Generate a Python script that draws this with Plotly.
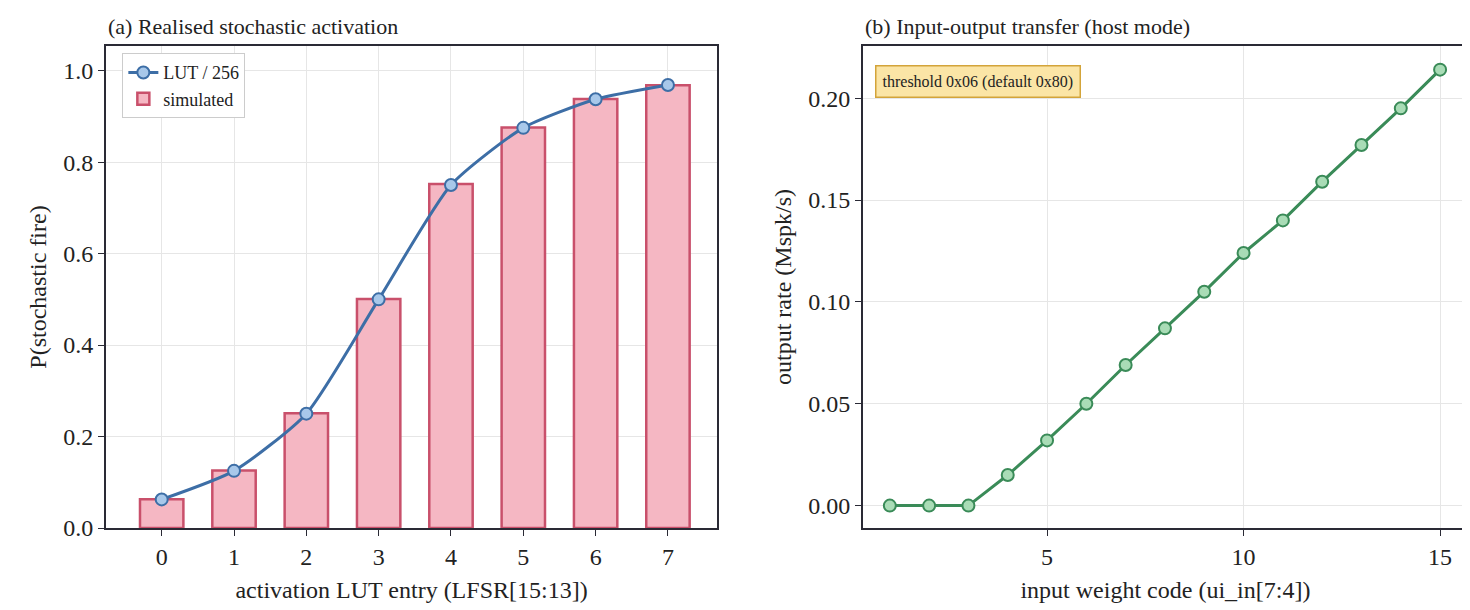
import plotly.graph_objects as go
from plotly.subplots import make_subplots

lut_x = [0, 1, 2, 3, 4, 5, 6, 7]
lut_p = [16/256, 32/256, 64/256, 128/256, 192/256, 224/256, 240/256, 248/256]
sim_p = [0.063, 0.126, 0.251, 0.501, 0.752, 0.876, 0.938, 0.968]
w_code = list(range(1, 16))
rate = [0, 0, 0, 0.015, 0.032, 0.050, 0.069, 0.087, 0.105, 0.124, 0.140, 0.159, 0.177, 0.195, 0.214]

F = "Liberation Serif"
fig = make_subplots(rows=1, cols=2)
fig.add_trace(go.Bar(x=lut_x, y=sim_p, width=0.6, name="simulated",
                     marker=dict(color="#f5b7c3", line=dict(color="#c9506b", width=2.5))), 1, 1)
fig.add_trace(go.Scatter(x=lut_x, y=lut_p, name="LUT / 256", mode="lines+markers",
                         line=dict(color="#3d6ea6", width=3, shape="spline", smoothing=0.6),
                         marker=dict(size=12, color="#a8c8ea", line=dict(color="#3d6ea6", width=2))), 1, 1)
fig.add_trace(go.Scatter(x=w_code, y=rate, mode="lines+markers", showlegend=False,
                         line=dict(color="#3a8b58", width=3),
                         marker=dict(size=12, color="#a9dcb6", line=dict(color="#3a8b58", width=2))), 1, 2)

ax = dict(showline=True, linecolor="#2a2a35", linewidth=1.8, mirror=True, ticks="outside",
          ticklen=6, tickcolor="#2a2a35", showgrid=True, gridcolor="#e6e6e6", zeroline=False,
          tickfont=dict(size=24, family=F, color="#222"))
tf = dict(size=24, family=F)
fig.update_xaxes(**ax)
fig.update_yaxes(**ax)
fig.update_xaxes(domain=[0, 0.4487], range=[-0.77, 7.68], tickvals=lut_x,
                 title=dict(text="activation LUT entry (LFSR[15:13])", font=tf, standoff=12), row=1, col=1)
fig.update_yaxes(range=[0, 1.054], tickvals=[0, 0.2, 0.4, 0.6, 0.8, 1.0], tickformat=".1f",
                 title=dict(text="P(stochastic fire)", font=tf, standoff=10), row=1, col=1)
fig.update_xaxes(domain=[0.5557, 1], range=[0.314, 15.71], tickvals=[5, 10, 15],
                 title=dict(text="input weight code (ui_in[7:4])", font=tf, standoff=12), row=1, col=2)
fig.update_yaxes(range=[-0.011, 0.2256], tickvals=[0, 0.05, 0.1, 0.15, 0.2], tickformat=".2f",
                 title=dict(text="output rate (Mspk/s)", font=tf, standoff=10), row=1, col=2)
fig.update_layout(
    width=1470, height=610, plot_bgcolor="white", paper_bgcolor="white",
    margin=dict(l=98, r=8, t=38, b=90),
    font=dict(family=F, color="#222"),
    legend=dict(x=0.012, y=0.985, xanchor="left", yanchor="top", bgcolor="white",
                bordercolor="#cccccc", borderwidth=1, font=dict(size=18, family=F), traceorder="reversed"),
    annotations=[
        dict(text="(a) Realised stochastic activation", xref="x domain", yref="y domain", x=0, y=1.01,
             xanchor="left", yanchor="bottom", showarrow=False, font=dict(size=22, family=F)),
        dict(text="(b) Input-output transfer (host mode)", xref="x2 domain", yref="y2 domain", x=0, y=1.01,
             xanchor="left", yanchor="bottom", showarrow=False, font=dict(size=22, family=F)),
        dict(text="threshold 0x06 (default 0x80)", xref="x2 domain", yref="y2 domain", x=0.02, y=0.96,
             xanchor="left", yanchor="top", showarrow=False, font=dict(size=16, family=F),
             bgcolor="#fbe5a6", bordercolor="#d3a43a", borderwidth=1.5, borderpad=6),
    ])
fig.write_html("out.html")
